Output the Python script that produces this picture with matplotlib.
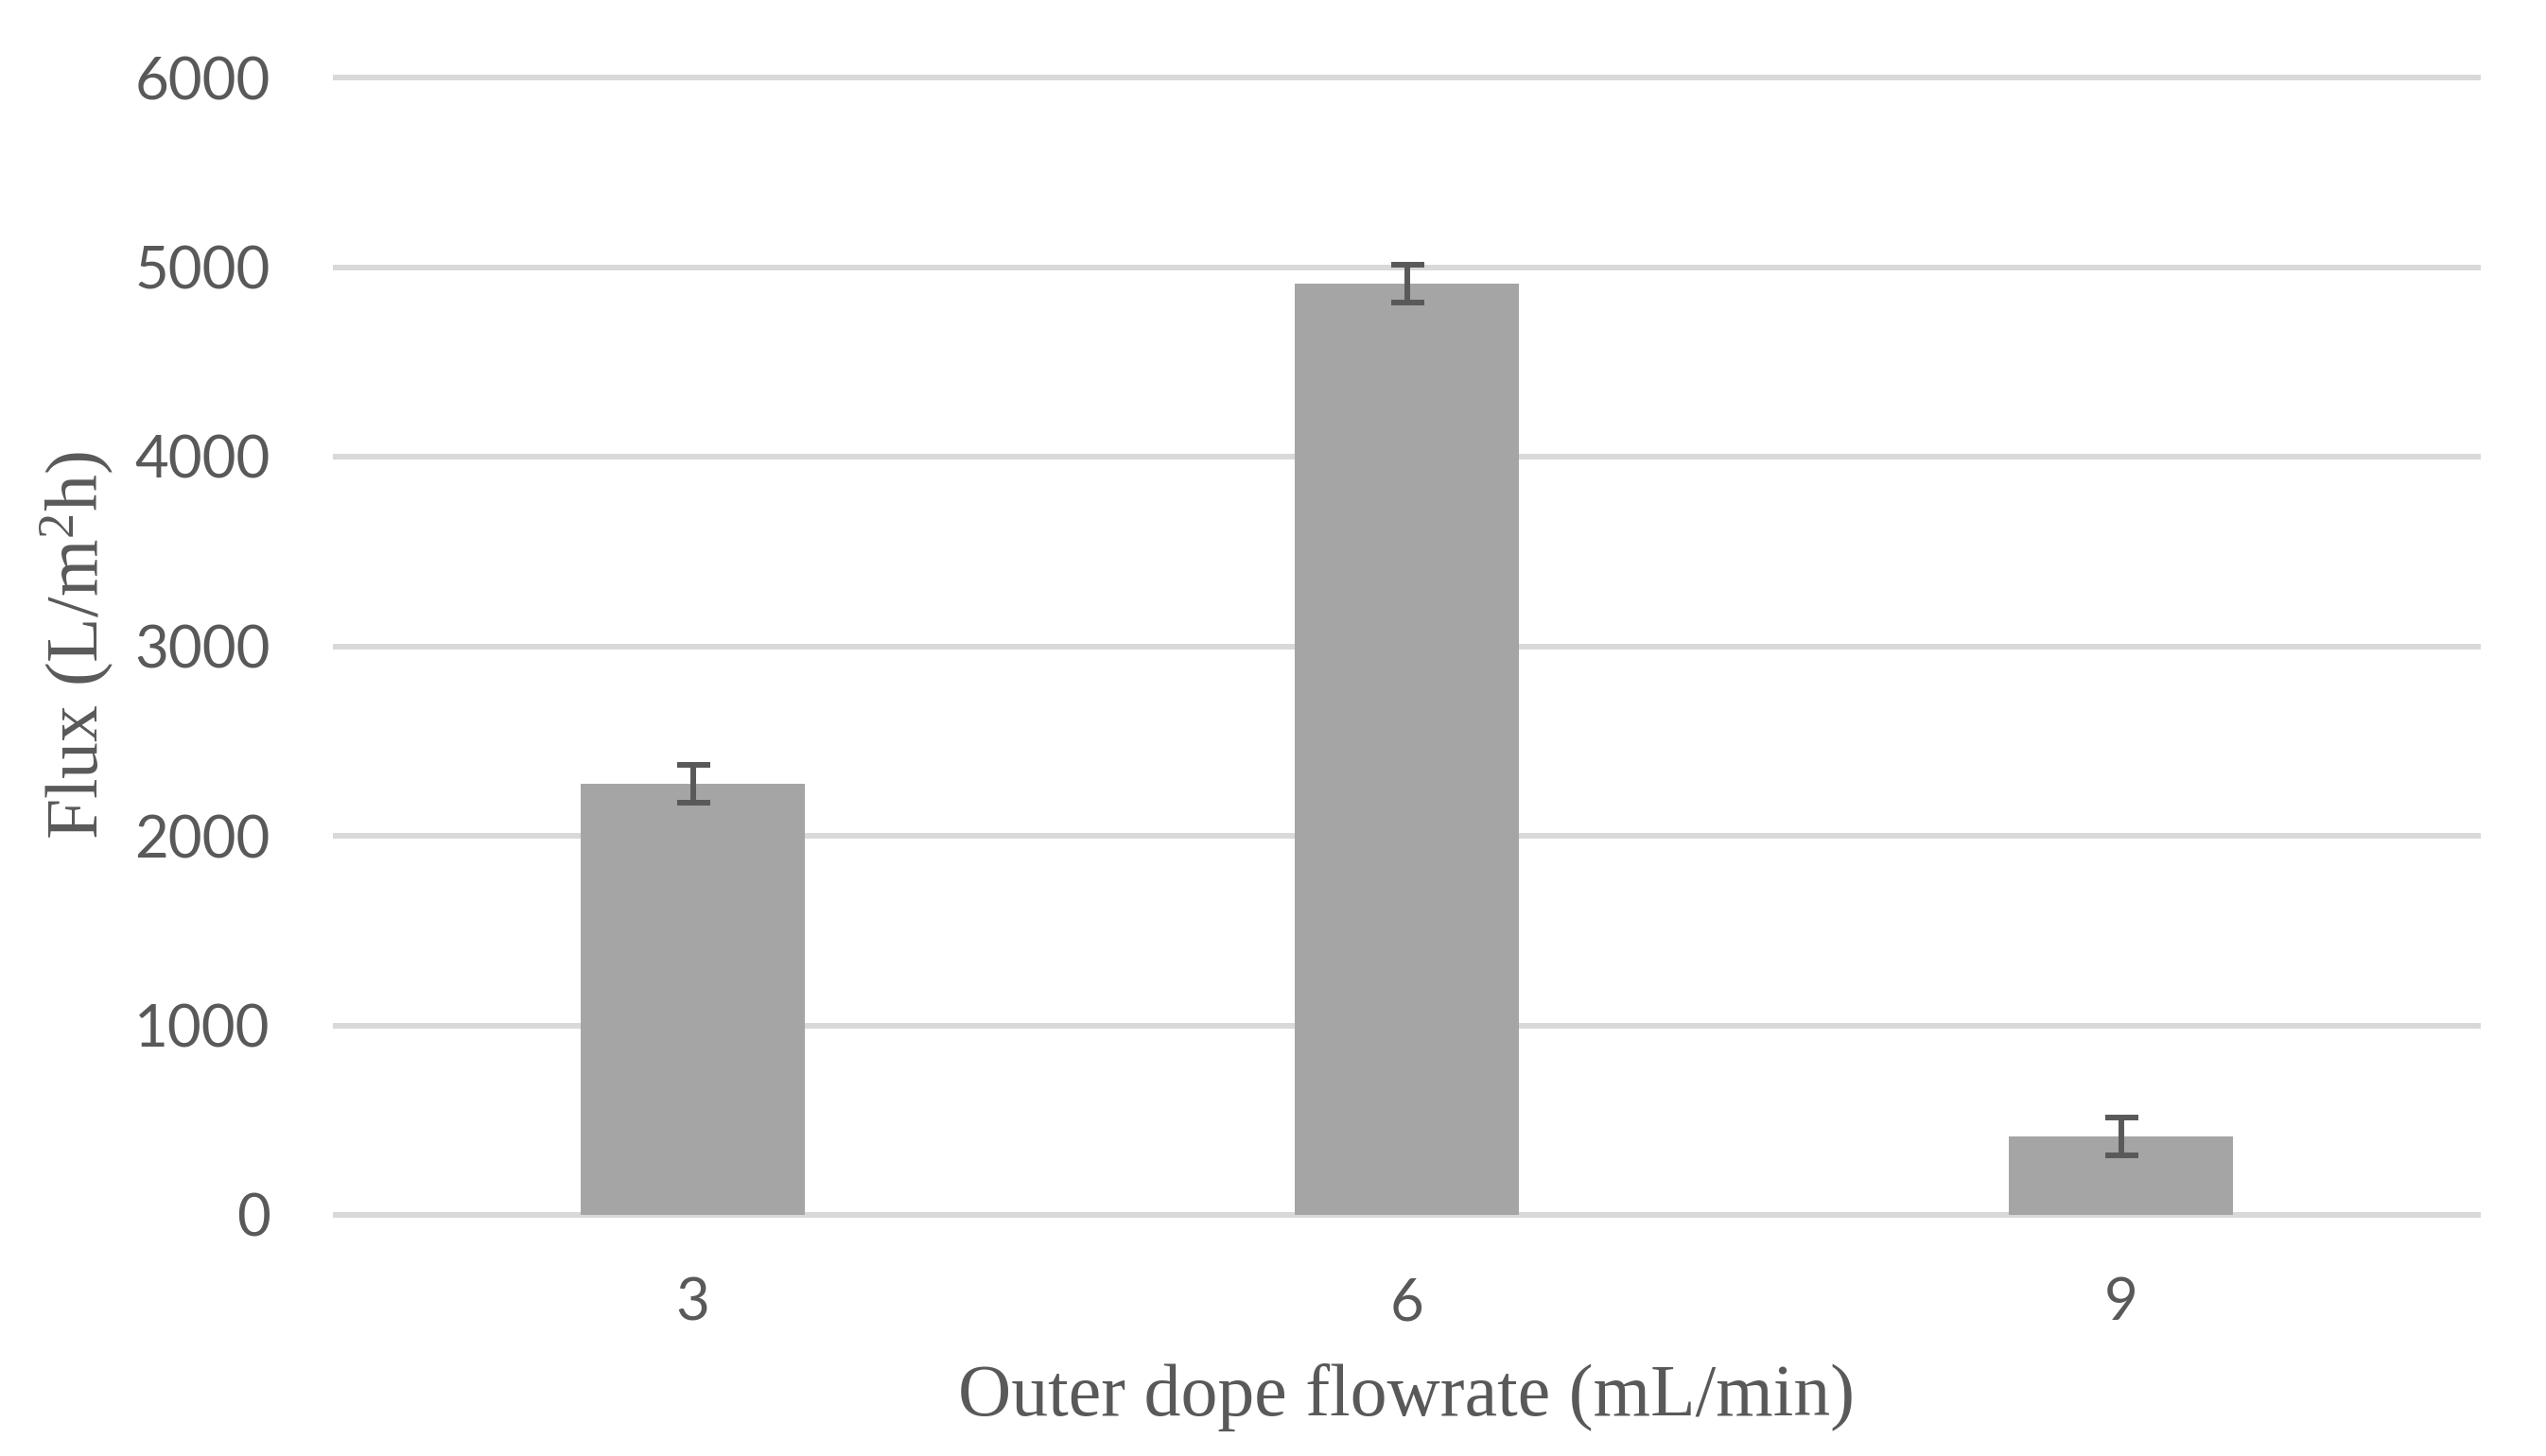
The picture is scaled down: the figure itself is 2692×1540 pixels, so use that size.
import matplotlib
matplotlib.use('Agg')
import matplotlib.pyplot as plt
import numpy as np

# data
flowrates = ['3', '6', '9']
flux = [2274, 4911, 414]
flux_err = [100, 100, 100]
yticks = [0, 1000, 2000, 3000, 4000, 5000, 6000]

plt.rcParams['mathtext.fontset'] = 'custom'
plt.rcParams['mathtext.rm'] = 'Liberation Serif'
plt.rcParams['mathtext.it'] = 'Liberation Serif:italic'

W, H = 2692, 1540
fig = plt.figure(figsize=(W / 100, H / 100), dpi=100)
left, right, bottom, top = 355, 2620, 1285, 82
ax = fig.add_axes([left / W, 1 - bottom / H, (right - left) / W, (bottom - top) / H])

x = np.arange(len(flowrates))
ax.bar(x, flux, width=0.314, color='#a5a5a5', zorder=2)
ax.errorbar(x, flux, yerr=flux_err, fmt='none', ecolor='#595959',
            elinewidth=4.3, capsize=12.6, capthick=4.3, zorder=3)

ax.set_xlim(-0.5, len(flowrates) - 0.5)
ax.set_ylim(0, 6000)
ax.set_yticks(yticks)
ax.set_xticks(x)
ax.set_xticklabels(flowrates)

for s in ax.spines.values():
    s.set_visible(False)
for yv in yticks:
    ax.axhline(yv, color='#d9d9d9', lw=4.3, zorder=1, clip_on=False)

ax.tick_params(axis='both', length=0, labelsize=44.5, labelcolor='#595959')
ax.tick_params(axis='y', pad=50)
ax.tick_params(axis='x', pad=47)
for lab in ax.get_xticklabels() + ax.get_yticklabels():
    lab.set_fontfamily('Lato')

fig.text(82 / W, 1 - 683 / H, r'Flux (L/m$^{2}$h)', rotation=90, ha='center', va='center',
         fontsize=56, color='#595959', family='Liberation Serif')
fig.text(1487 / W, 1 - 1478 / H, 'Outer dope flowrate (mL/min)', ha='center', va='center',
         fontsize=56, color='#595959', family='Liberation Serif')

fig.savefig('out.png', dpi=100, facecolor='white')
